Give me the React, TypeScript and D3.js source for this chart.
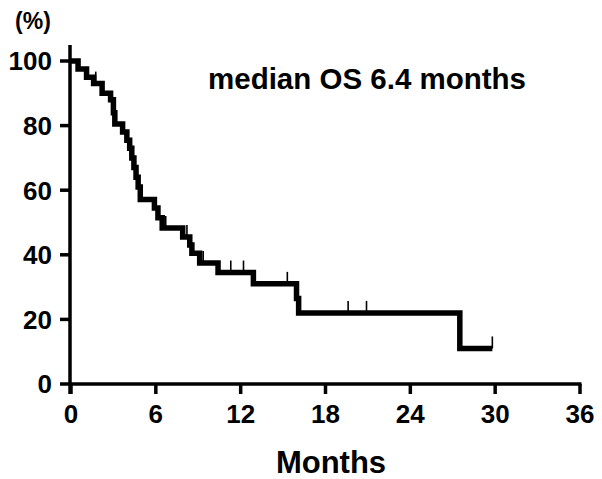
import React from "react";
import * as d3 from "d3";

const stepTimes = [0, 0.5, 1.1, 1.6, 2.2, 2.8, 3.0, 3.1, 3.65, 3.95, 4.15, 4.3, 4.45, 4.6, 4.75, 4.9, 5.9, 6.15, 6.45, 7.9, 8.4, 8.55, 9.1, 10.4, 12.9, 15.95, 16.1, 27.5];
const stepSurvival = [100, 97.5, 95, 93, 90, 88, 84, 80.5, 78, 75.5, 73, 70, 67, 64, 61, 57.1, 54.5, 51.5, 48.3, 45.5, 43, 40.5, 37.5, 34.5, 31, 26.5, 22, 11];
const endTime = 29.8;
const censorTimes = [1.75, 6.7, 8.2, 9.35, 11.3, 12.2, 15.3, 19.6, 20.9, 29.8];
const xTicks = [0, 6, 12, 18, 24, 30, 36];
const yTicks = [0, 20, 40, 60, 80, 100];
const title = "median OS 6.4 months";
const xLabel = "Months";
const yLabel = "(%)";

const W = 602;
const H = 479;
const FONT = "'Liberation Sans', Arial, sans-serif";

export default function App() {
  const x = d3.scaleLinear().domain([0, 36]).range([71, 580]);
  const y = d3.scaleLinear().domain([0, 100]).range([384, 61]);

  const pts: [number, number][] = stepTimes.map((t, i) => [t, stepSurvival[i]]);
  pts.push([endTime, stepSurvival[stepSurvival.length - 1]]);
  const line = d3
    .line<[number, number]>()
    .x((d) => x(d[0]))
    .y((d) => y(d[1]))
    .curve(d3.curveStepAfter);

  const levelAt = (t: number) => {
    let v = stepSurvival[0];
    for (let i = 0; i < stepTimes.length; i++) if (stepTimes[i] <= t) v = stepSurvival[i];
    return v;
  };

  return (
    <svg width={W} height={H} style={{ position: "absolute", left: 0, top: 0, background: "#fff" }}>
      <rect x={0} y={0} width={W} height={H} fill="#fff" />
      <line x1={x(0)} x2={x(36) + 1.5} y1={y(0)} y2={y(0)} stroke="#000" strokeWidth={3.5} />
      <line x1={x(0) - 1} x2={x(0) - 1} y1={45} y2={y(0) + 10} stroke="#000" strokeWidth={3.5} />
      {yTicks.map((v) => (
        <g key={"y" + v}>
          <line x1={x(0) - 11} x2={x(0)} y1={y(v)} y2={y(v)} stroke="#000" strokeWidth={3.5} />
          <text x={52} y={y(v)} dy="0.36em" textAnchor="end" fontFamily={FONT} fontWeight="bold" fontSize={26} fill="#000">
            {v}
          </text>
        </g>
      ))}
      {xTicks.map((v) => (
        <g key={"x" + v}>
          <line x1={x(v)} x2={x(v)} y1={y(0)} y2={y(0) + 10} stroke="#000" strokeWidth={3.5} />
          <text x={x(v)} y={423} textAnchor="middle" fontFamily={FONT} fontWeight="bold" fontSize={26} fill="#000">
            {v}
          </text>
        </g>
      ))}
      <text x={33} y={29} textAnchor="middle" fontFamily={FONT} fontWeight="bold" fontSize={23} fill="#000">
        {yLabel}
      </text>
      <text x={331} y={473} textAnchor="middle" fontFamily={FONT} fontWeight="bold" fontSize={31} fill="#000">
        {xLabel}
      </text>
      <text x={208} y={89} fontFamily={FONT} fontWeight="bold" fontSize={29.5} fill="#000">
        {title}
      </text>
      <path d={line(pts) || ""} fill="none" stroke="#000" strokeWidth={5.5} strokeLinejoin="miter" />
      {censorTimes.map((t, i) => {
        const yy = y(levelAt(t));
        return <line key={"c" + i} x1={x(t)} x2={x(t)} y1={yy - 12} y2={yy} stroke="#000" strokeWidth={1.6} />;
      })}
    </svg>
  );
}
